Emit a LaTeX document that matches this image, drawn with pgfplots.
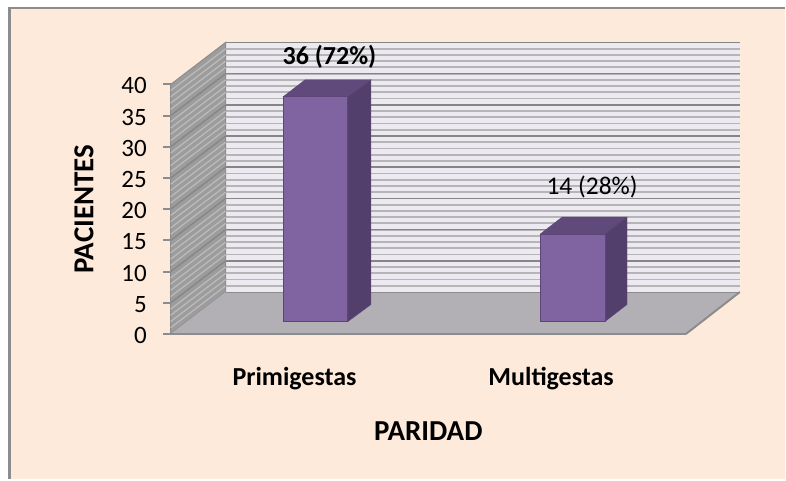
\documentclass[border=0pt]{standalone}
\usepackage{fontspec}
\setmainfont{Carlito}
\usepackage{pgfplots}
\pgfplotsset{compat=1.18}
\definecolor{page}{HTML}{FDEADA}
\definecolor{frameline}{HTML}{8C8C8C}
\definecolor{wall}{HTML}{ECEAF0}
\definecolor{minorline}{HTML}{B5B5B7}
\definecolor{majorline}{HTML}{858585}
\definecolor{sidewall}{HTML}{9C9C9C}
\definecolor{sideline}{HTML}{BABABA}
\definecolor{floorcol}{HTML}{B2B0B4}
\definecolor{barfront}{HTML}{8064A2}
\definecolor{barside}{HTML}{533F6C}
\definecolor{bartop}{HTML}{604A7B}
\definecolor{baredge}{HTML}{5C4577}
% x is in pixels of the reference, y in patients
\pgfplotstableread{
x   y
316 36
573.5 14
}\bars
\begin{document}
\begin{tikzpicture}[x=1pt,y=1pt]
% white page, peach chart area with its frame on the top and left
\fill[white] (0,0) rectangle (786,480);
\fill[page] (10,0) rectangle (786,472);
\draw[frameline,line width=2.5pt] (9.5,0) -- (9.5,472) -- (786,472);
\begin{axis}[
    at={(171pt,145.5pt)},anchor=south west,
    scale only axis,
    width=516pt,height=250pt,
    xmin=171,xmax=687,ymin=0,ymax=40,
    clip=false,
    axis x line*=bottom,axis y line*=left,
    axis line style={frameline,line width=2pt,-},
    xtick={295,552},
    xticklabels={Primigestas,Multigestas},
    x tick label style={font=\fontsize{26}{28}\selectfont\bfseries,yshift=-22pt},
    x tick style={draw=none},
    ytick={0,5,...,40},
    tick align=outside,
    major tick length=7.5pt,
    y tick style={frameline,line width=2pt},
    y tick label style={font=\fontsize{25}{28}\selectfont,xshift=-13pt,yshift=-1.5pt},
    /pgf/number format/assume math mode=true,
    xlabel={PARIDAD},
    ylabel={PACIENTES},
    every axis x label/.style={at={(axis cs:429,-15.5)},anchor=center,font=\fontsize{29}{30}\selectfont\bfseries},
    every axis y label/.style={at={(axis cs:84,20.0)},anchor=center,rotate=90,font=\fontsize{29}{30}\selectfont\bfseries},
]
% back wall with its gridlines
\addplot[fill=wall,draw=none] coordinates {(226,6.72) (741,6.72) (741,46.72) (226,46.72)} -- cycle;
\pgfplotsinvokeforeach{1,...,39}{
  \draw[minorline,line width=1.8pt] (axis cs:226,#1+6.72) -- (axis cs:741,#1+6.72);
}
\pgfplotsinvokeforeach{5,10,...,40}{
  \draw[majorline,line width=1.6pt] (axis cs:226,#1+6.72) -- (axis cs:741,#1+6.72);
}
% left wall
\addplot[fill=sidewall,draw=frameline,line width=1pt] coordinates {(171,0) (226,6.72) (226,46.72) (171,40)} -- cycle;
\pgfplotsinvokeforeach{1,...,39}{
  \draw[sideline,line width=1.3pt] (axis cs:171,#1) -- (axis cs:226,#1+6.72);
}
\pgfplotsinvokeforeach{5,10,...,35}{
  \draw[majorline,line width=1.5pt] (axis cs:171,#1) -- (axis cs:226,#1+6.72);
}
% floor
\addplot[fill=floorcol,draw=none] coordinates {(171,0) (226,6.72) (741,6.72) (687,0)} -- cycle;
\addplot[draw=frameline,line width=2pt] coordinates {(687,0) (741,6.72)};
\addplot[draw=frameline,line width=1pt] coordinates {(226,6.72) (741,6.72)};
\addplot[draw=frameline,line width=2pt] coordinates {(171,0) (687,0)};
% bars: tops and sides first, fronts over them, raised by the floor depth
\addplot[fill=bartop,draw=baredge,yshift=12.5pt] coordinates {(283.5,36) (305.5,38.72) (371.5,38.72) (348.5,36)} -- cycle;
\addplot[fill=barside,draw=baredge,yshift=12.5pt] coordinates {(348.5,0) (371.5,2.72) (371.5,38.72) (348.5,36)} -- cycle;
\addplot[fill=bartop,draw=baredge,yshift=12.5pt] coordinates {(541,14) (563,16.72) (628,16.72) (606,14)} -- cycle;
\addplot[fill=barside,draw=baredge,yshift=12.5pt] coordinates {(606,0) (628,2.72) (628,16.72) (606,14)} -- cycle;
\addplot[ybar,bar width=65pt,bar shift=0pt,fill=barfront,draw=baredge,line width=1pt,yshift=12.5pt] table {\bars};
\node[font=\fontsize{26}{28}\selectfont\bfseries] at (axis cs:330,44.4) {36 (72\%)};
\node[font=\fontsize{25.5}{28}\selectfont] at (axis cs:593,23.5) {14 (28\%)};
\end{axis}
\end{tikzpicture}
\end{document}
